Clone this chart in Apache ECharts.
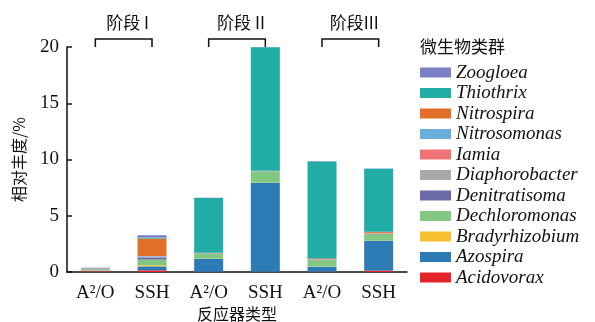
<!DOCTYPE html>
<html>
<head>
<meta charset="utf-8">
<script src="https://cdn.jsdelivr.net/npm/echarts@6/dist/echarts.min.js"></script>
<style>
  html, body { margin: 0; padding: 0; background: #fff; }
  #chart { width: 595px; height: 322px; }
</style>
</head>
<body>
<div id="chart"></div>
<script>
// Reactor samples, two per operating stage
const categories = ['A²/O', 'SSH', 'A²/O', 'SSH', 'A²/O', 'SSH'];
const stageLabels = ['阶段 I', '阶段 II', '阶段III'];
const yTicks = [0, 5, 10, 15, 20];

// Relative abundance (%) of each genus, stacked bottom to top
const Acidovorax     = [0.07, 0.15, 0.02, 0.02, 0.03, 0.12];
const Azospira       = [0.02, 0.35, 1.15, 7.92, 0.45, 2.65];
const Bradyrhizobium = [0.02, 0.10, 0.02, 0.01, 0.02, 0.02];
const Dechloromonas  = [0.10, 0.50, 0.42, 1.00, 0.55, 0.60];
const Denitratisoma  = [0.03, 0.20, 0.03, 0.01, 0.02, 0.02];
const Diaphorobacter = [0.02, 0.05, 0.02, 0.01, 0.02, 0.02];
const Iamia          = [0.01, 0.02, 0.02, 0.01, 0.02, 0.03];
const Nitrosomonas   = [0.01, 0.05, 0.02, 0.01, 0.02, 0.02];
const Nitrospira     = [0.04, 1.55, 0.02, 0.01, 0.08, 0.10];
const Thiothrix      = [0.02, 0.10, 4.85, 10.98, 8.62, 5.60];
const Zoogloea       = [0.04, 0.20, 0.03, 0.02, 0.03, 0.02];

const genera = [
  ['Acidovorax', Acidovorax, '#e3252b'],
  ['Azospira', Azospira, '#2c7bb4'],
  ['Bradyrhizobium', Bradyrhizobium, '#f6c02f'],
  ['Dechloromonas', Dechloromonas, '#82c782'],
  ['Denitratisoma', Denitratisoma, '#6b6aa9'],
  ['Diaphorobacter', Diaphorobacter, '#a9a9a9'],
  ['Iamia', Iamia, '#ef7274'],
  ['Nitrosomonas', Nitrosomonas, '#6aaedb'],
  ['Nitrospira', Nitrospira, '#e2702b'],
  ['Thiothrix', Thiothrix, '#22aca6'],
  ['Zoogloea', Zoogloea, '#7b80c6']
];

const serif = '"Liberation Serif", "Times New Roman", serif';
const cjk = '"Noto Sans CJK SC", sans-serif';

const chart = echarts.init(document.getElementById('chart'), null, { renderer: 'canvas' });

const series = genera.map(([name, values, color]) => ({
  name: name,
  type: 'bar',
  stack: 'total',
  barWidth: 29,
  data: values,
  itemStyle: { color: color },
  emphasis: { disabled: true }
}));

chart.setOption({
  animation: false,
  grid: { left: 67, top: 47, width: 340, height: 225, outerBoundsMode: 'none', containLabel: false },
  legend: {
    orient: 'vertical',
    left: 415,
    top: 58,
    itemWidth: 31,
    itemHeight: 10,
    itemGap: 1.5,
    icon: 'rect',
    data: genera.map(g => g[0]).reverse(),
    textStyle: {
      fontFamily: serif, fontStyle: 'italic', fontSize: 19,
      color: '#111', lineHeight: 16.5
    },
    selectedMode: false
  },
  xAxis: {
    type: 'category',
    data: categories,
    name: '反应器类型',
    nameLocation: 'middle',
    nameGap: 34,
    nameMoveOverlap: false,
    nameTextStyle: { fontFamily: cjk, fontSize: 16, color: '#111' },
    axisLine: { lineStyle: { color: '#111', width: 1.5 } },
    axisTick: { inside: true, alignWithLabel: true, length: 5, lineStyle: { color: '#111', width: 1.5 } },
    axisLabel: { fontFamily: serif, fontSize: 19, color: '#111', margin: 12 }
  },
  yAxis: {
    type: 'value',
    min: yTicks[0],
    max: yTicks[yTicks.length - 1],
    interval: 5,
    name: '相对丰度/%',
    nameLocation: 'middle',
    nameGap: 40,
    nameMoveOverlap: false,
    nameRotate: 90,
    nameTextStyle: { fontFamily: cjk, fontSize: 16, color: '#111' },
    splitLine: { show: false },
    axisLine: { show: true, lineStyle: { color: '#111', width: 1.5 } },
    axisTick: { show: true, inside: true, length: 5, lineStyle: { color: '#111', width: 1.5 } },
    axisLabel: { fontFamily: serif, fontSize: 19, color: '#111', margin: 8 }
  },
  series: series
});

// Stage brackets above each pair of reactor bars
const graphics = [];
const topY = chart.convertToPixel({ yAxisIndex: 0 }, yTicks[yTicks.length - 1]);
stageLabels.forEach((label, i) => {
  const x1 = chart.convertToPixel({ xAxisIndex: 0 }, i * 2);
  const x2 = chart.convertToPixel({ xAxisIndex: 0 }, i * 2 + 1);
  const yb = topY - 8;
  graphics.push({
    type: 'polyline',
    shape: { points: [[x1, topY], [x1, yb], [x2, yb], [x2, topY]] },
    style: { stroke: '#111', lineWidth: 1.5, fill: null }
  });
  graphics.push({
    type: 'text',
    x: (x1 + x2) / 2 + 4,
    y: 23,
    style: {
      text: label, fontFamily: cjk, fontSize: 17, fill: '#111',
      align: 'center', verticalAlign: 'middle'
    }
  });
});
graphics.push({
  type: 'text',
  x: 420,
  y: 47,
  style: {
    text: '微生物类群', fontFamily: cjk, fontSize: 17, fill: '#111',
    align: 'left', verticalAlign: 'middle'
  }
});
chart.setOption({ graphic: graphics });
</script>
</body>
</html>
